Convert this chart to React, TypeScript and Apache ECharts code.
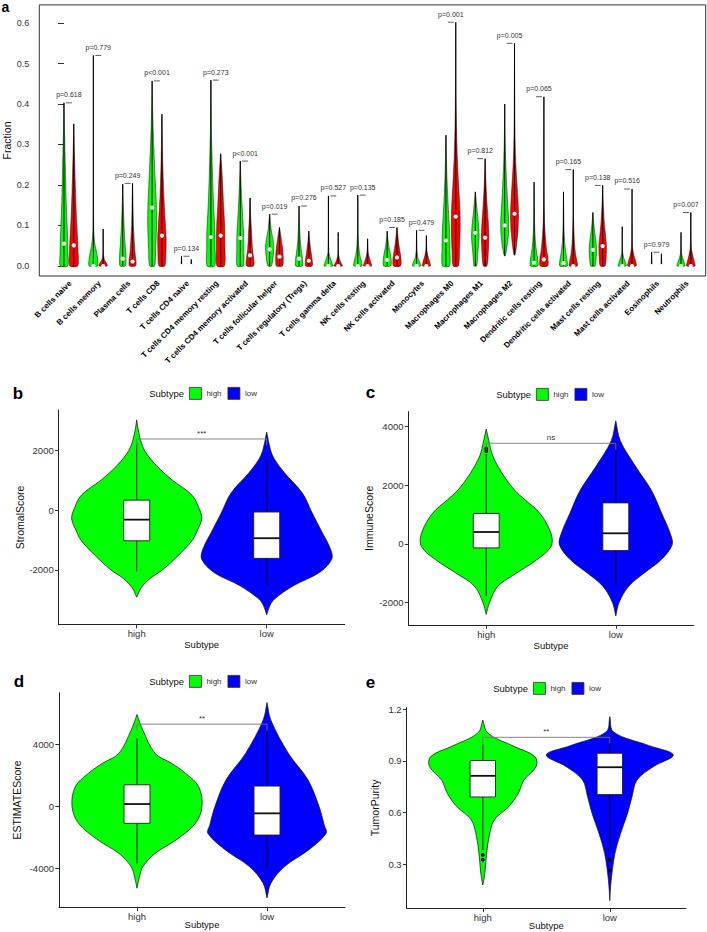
import React, { useEffect, useRef } from "react";
import * as echarts from "echarts";

// ---------------- Panel a data (CIBERSORT fractions) ----------------
const cellTypes = [
  "B cells naive", "B cells memory", "Plasma cells", "T cells CD8", "T cells CD4 naive",
  "T cells CD4 memory resting", "T cells CD4 memory activated", "T cells follicular helper",
  "T cells regulatory (Tregs)", "T cells gamma delta", "NK cells resting", "NK cells activated",
  "Monocytes", "Macrophages M0", "Macrophages M1", "Macrophages M2", "Dendritic cells resting",
  "Dendritic cells activated", "Mast cells resting", "Mast cells activated", "Eosinophils", "Neutrophils",
];
const pLabels = [
  "p=0.618", "p=0.779", "p=0.249", "p<0.001", "p=0.134", "p=0.273", "p<0.001", "p=0.019",
  "p=0.276", "p=0.527", "p=0.135", "p=0.185", "p=0.479", "p=0.001", "p=0.812", "p=0.005",
  "p=0.065", "p=0.165", "p=0.138", "p=0.516", "p=0.979", "p=0.007",
];
const highMedian = [0.055, 0, 0.018, 0.144, 0, 0.071, 0.069, 0.041, 0.018, 0, 0, 0.015, 0, 0.063, 0.082, 0.1, 0.008, 0.007, 0.04, 0, 0, 0];
const lowMedian = [0.051, 0, 0.011, 0.075, 0, 0.075, 0.026, 0.023, 0.013, 0, 0, 0.021, 0, 0.122, 0.07, 0.129, 0.016, 0, 0.049, 0, 0, 0];
// violin outlines: [value, relative half width]
const highProfile = [
  [[0, 0.85], [0.03, 0.9], [0.06, 0.85], [0.1, 0.7], [0.16, 0.5], [0.25, 0.3], [0.32, 0.15], [0.403, 0]],
  [[0, 0.95], [0.015, 1.0], [0.035, 0.7], [0.05, 0.4], [0.08, 0.12], [0.15, 0.04], [0.52, 0]],
  [[0, 0.6], [0.015, 0.75], [0.03, 0.7], [0.06, 0.5], [0.1, 0.3], [0.15, 0.12], [0.202, 0]],
  [[0, 0.55], [0.04, 0.8], [0.1, 1.0], [0.15, 0.95], [0.2, 0.75], [0.25, 0.55], [0.3, 0.35], [0.37, 0.15], [0.457, 0]],
  [[0, 0.3], [0.005, 0.1], [0.024, 0]],
  [[0, 0.85], [0.04, 0.95], [0.09, 0.9], [0.13, 0.7], [0.18, 0.5], [0.25, 0.3], [0.33, 0.12], [0.459, 0]],
  [[0, 0.7], [0.04, 0.8], [0.08, 0.75], [0.12, 0.55], [0.17, 0.3], [0.21, 0.15], [0.259, 0]],
  [[0, 0.4], [0.02, 0.75], [0.045, 0.95], [0.065, 0.75], [0.09, 0.35], [0.128, 0]],
  [[0, 0.75], [0.015, 0.8], [0.035, 0.55], [0.06, 0.3], [0.1, 0.12], [0.148, 0]],
  [[0, 1.0], [0.008, 0.8], [0.02, 0.4], [0.035, 0.08], [0.173, 0]],
  [[0, 0.9], [0.01, 0.85], [0.025, 0.5], [0.05, 0.2], [0.08, 0.08], [0.175, 0]],
  [[0, 0.8], [0.015, 0.9], [0.03, 0.7], [0.05, 0.35], [0.07, 0.12], [0.086, 0]],
  [[0, 0.9], [0.01, 0.7], [0.02, 0.3], [0.04, 0.08], [0.088, 0]],
  [[0, 0.8], [0.04, 0.9], [0.08, 0.85], [0.12, 0.65], [0.16, 0.45], [0.22, 0.22], [0.27, 0.1], [0.323, 0]],
  [[0, 0.3], [0.03, 0.55], [0.07, 0.85], [0.1, 0.75], [0.13, 0.45], [0.16, 0.2], [0.183, 0]],
  [[0.025, 0.1], [0.05, 0.55], [0.08, 0.85], [0.11, 0.9], [0.15, 0.7], [0.2, 0.45], [0.26, 0.22], [0.32, 0.08], [0.4, 0]],
  [[0, 0.85], [0.015, 0.85], [0.035, 0.55], [0.06, 0.3], [0.1, 0.12], [0.15, 0.04], [0.207, 0]],
  [[0, 0.85], [0.015, 0.8], [0.035, 0.5], [0.06, 0.25], [0.1, 0.1], [0.183, 0]],
  [[0, 0.5], [0.02, 0.75], [0.04, 0.85], [0.06, 0.7], [0.085, 0.4], [0.11, 0.15], [0.132, 0]],
  [[0, 0.9], [0.008, 0.75], [0.02, 0.35], [0.035, 0.08], [0.097, 0]],
  [[0, 0.3], [0.005, 0.1], [0.034, 0]],
  [[0, 0.9], [0.008, 0.75], [0.02, 0.35], [0.035, 0.08], [0.083, 0]],
];
const lowProfile = [
  [[0, 0.9], [0.04, 0.95], [0.08, 0.8], [0.12, 0.6], [0.2, 0.35], [0.28, 0.15], [0.351, 0]],
  [[0, 0.9], [0.006, 0.8], [0.015, 0.3], [0.03, 0.05], [0.091, 0]],
  [[0, 0.7], [0.01, 0.8], [0.03, 0.6], [0.06, 0.4], [0.1, 0.2], [0.15, 0.1], [0.204, 0]],
  [[0, 0.65], [0.03, 0.9], [0.07, 0.95], [0.12, 0.7], [0.17, 0.45], [0.25, 0.2], [0.32, 0.07], [0.375, 0]],
  [[0, 0.3], [0.005, 0.1], [0.016, 0]],
  [[0, 0.85], [0.05, 0.95], [0.1, 0.9], [0.15, 0.65], [0.2, 0.45], [0.24, 0.25], [0.277, 0]],
  [[0, 0.8], [0.015, 0.85], [0.04, 0.55], [0.08, 0.35], [0.12, 0.15], [0.168, 0]],
  [[0, 0.7], [0.02, 0.85], [0.04, 0.75], [0.06, 0.5], [0.08, 0.25], [0.095, 0]],
  [[0, 0.75], [0.015, 0.75], [0.035, 0.5], [0.06, 0.2], [0.086, 0]],
  [[0, 0.95], [0.006, 0.7], [0.015, 0.35], [0.03, 0.05], [0.083, 0]],
  [[0, 0.9], [0.008, 0.75], [0.02, 0.4], [0.035, 0.12], [0.067, 0]],
  [[0, 0.8], [0.02, 0.9], [0.04, 0.6], [0.06, 0.35], [0.08, 0.15], [0.095, 0]],
  [[0, 0.9], [0.01, 0.75], [0.025, 0.35], [0.04, 0.1], [0.075, 0]],
  [[0, 0.6], [0.04, 0.85], [0.09, 1.0], [0.14, 0.95], [0.2, 0.65], [0.27, 0.35], [0.35, 0.15], [0.45, 0.05], [0.602, 0]],
  [[0, 0.4], [0.03, 0.7], [0.07, 0.85], [0.11, 0.7], [0.15, 0.45], [0.2, 0.2], [0.265, 0]],
  [[0.027, 0.1], [0.05, 0.45], [0.09, 0.8], [0.13, 0.9], [0.17, 0.75], [0.22, 0.45], [0.28, 0.2], [0.36, 0.07], [0.55, 0]],
  [[0, 0.85], [0.02, 0.9], [0.04, 0.6], [0.07, 0.35], [0.1, 0.18], [0.15, 0.06], [0.25, 0.02], [0.418, 0]],
  [[0, 0.9], [0.01, 0.85], [0.03, 0.5], [0.06, 0.25], [0.1, 0.1], [0.15, 0.03], [0.238, 0]],
  [[0, 0.55], [0.025, 0.8], [0.05, 0.85], [0.08, 0.6], [0.11, 0.35], [0.15, 0.15], [0.199, 0]],
  [[0, 0.95], [0.01, 0.85], [0.025, 0.45], [0.045, 0.12], [0.08, 0.03], [0.19, 0]],
  [[0, 0.3], [0.005, 0.1], [0.03, 0]],
  [[0, 0.95], [0.01, 0.8], [0.025, 0.45], [0.045, 0.12], [0.132, 0]],
];
const fractionTicks = [0, 0.1, 0.2, 0.3, 0.4, 0.5, 0.6];

// ---------------- Panels b-e data ----------------
const subtypes = ["high", "low"];
// box: [lower whisker, Q1, median, Q3, upper whisker]
const stromalHighProfile = [[-2920, 0], [-2600, 0.07], [-2300, 0.2], [-2000, 0.4], [-1500, 0.65], [-1000, 0.86], [-700, 0.93], [-300, 1.0], [0, 0.97], [500, 0.85], [1000, 0.55], [1500, 0.3], [2000, 0.12], [2500, 0.04], [3020, 0]];
const stromalLowProfile = [[-3510, 0], [-3200, 0.05], [-2980, 0.12], [-2538, 0.41], [-2093, 0.81], [-1650, 1.0], [-1300, 0.98], [-650, 0.83], [-100, 0.7], [565, 0.55], [1229, 0.28], [1700, 0.12], [2000, 0.06], [2611, 0]];
const stromalHighBox = [-2060, -1030, -322, 332, 2200];
const stromalLowBox = [-2538, -1618, -943, -66, 1671];
const stromalTicks = [-2000, 0, 2000];
const stromalSig = [2379, "***"];

const immuneHighProfile = [[-2400, 0], [-2000, 0.05], [-1441, 0.18], [-991, 0.47], [-540, 0.78], [-90, 1.0], [361, 1.0], [1037, 0.83], [1500, 0.6], [1824, 0.44], [2389, 0.25], [3000, 0.1], [3514, 0.04], [3909, 0]];
const immuneLowProfile = [[-2456, 0], [-2000, 0.05], [-1441, 0.2], [-991, 0.44], [-540, 0.7], [-34, 0.87], [361, 0.84], [1037, 0.71], [1824, 0.55], [2625, 0.31], [3514, 0.07], [4189, 0]];
const immuneHighBox = [-1780, -135, 405, 1037, 3050];
const immuneLowBox = [-1441, -226, 361, 1396, 3500];
const immuneHighOutliers = [3150, 3250];
const immuneTicks = [-2000, 0, 2000, 4000];
const immuneSig = [3425, "ns"];

const estimateHighProfile = [[-5273, 0], [-4500, 0.04], [-3880, 0.09], [-3025, 0.28], [-2167, 0.6], [-1093, 0.9], [0, 1.0], [1260, 0.95], [2122, 0.75], [2778, 0.53], [3408, 0.28], [4904, 0.09], [5916, 0]];
const estimateLowProfile = [[-5897, 0], [-4950, 0.06], [-3880, 0.27], [-2810, 0.64], [-1737, 0.91], [-1200, 0.88], [0, 0.8], [1705, 0.63], [3408, 0.33], [5550, 0.06], [6688, 0]];
const estimateHighBox = [-3666, -1093, 148, 1389, 4373];
const estimateLowBox = [-3987, -1846, -450, 1305, 4950];
const estimateTicks = [-4000, 0, 4000];
const estimateSig = [5293, "**"];

const purityHighProfile = [[0.178, 0], [0.24, 0.03], [0.36, 0.06], [0.459, 0.1], [0.556, 0.18], [0.634, 0.41], [0.712, 0.56], [0.789, 0.65], [0.867, 0.84], [0.925, 0.82], [0.983, 0.5], [1.061, 0.08], [1.138, 0]];
const purityLowProfile = [[0.087, 0], [0.2, 0.02], [0.36, 0.08], [0.478, 0.17], [0.595, 0.28], [0.692, 0.35], [0.789, 0.43], [0.867, 0.69], [0.935, 1.0], [0.99, 0.61], [1.068, 0.06], [1.157, 0]];
const purityHighBox = [0.381, 0.69, 0.813, 0.902, 0.997];
const purityLowBox = [0.381, 0.704, 0.863, 0.944, 1.04];
const purityHighOutliers = [0.353, 0.325];
const purityLowOutliers = [0.325, 0.262];
const purityTicks = [0.3, 0.6, 0.9, 1.2];
const puritySig = [1.037, "**"];

// ---------------- styling / layout ----------------
const FONT = "Liberation Sans, Arial, Helvetica, sans-serif";
const GREEN = "#00ff00";
const RED = "#ff0000";
const BLUE = "#0000ff";

function violinPoints(api: any, center: number, profile: number[][], hw: number) {
  const right = profile.map(([v, w]) => api.coord([center + w * hw, v]));
  const left = profile.slice().reverse().map(([v, w]) => api.coord([center - w * hw, v]));
  return right.concat(left);
}

function panelASeries() {
  const HW = 0.45;
  return {
    type: "custom",
    name: "Fraction",
    xAxisIndex: 0,
    yAxisIndex: 0,
    clip: false,
    silent: true,
    data: cellTypes.map((_, i) => [3 * i, 0]),
    renderItem: (params: any, api: any) => {
      const i = params.dataIndex;
      const g = 3 * i;
      const r = 3 * i + 1;
      const hp = highProfile[i];
      const lp = lowProfile[i];
      const hMin = hp[0][0], hMax = hp[hp.length - 1][0];
      const lMin = lp[0][0], lMax = lp[lp.length - 1][0];
      const mx = Math.max(hMax, lMax);
      const children: any[] = [];
      const addViolin = (pos: number, prof: number[][], col: string, vmin: number, vmax: number, med: number) => {
        children.push({
          type: "polygon",
          shape: { points: violinPoints(api, pos, prof, HW), smooth: 0.25 },
          style: { fill: col, stroke: "#111", lineWidth: 0.5 },
        });
        const a = api.coord([pos, vmin]);
        const b = api.coord([pos, vmax]);
        children.push({
          type: "line",
          shape: { x1: a[0], y1: a[1], x2: b[0], y2: b[1] },
          style: { stroke: "#000", lineWidth: 1 },
        });
        const m = api.coord([pos, med]);
        children.push({ type: "circle", shape: { cx: m[0], cy: m[1], r: 2.1 }, style: { fill: "#fff" } });
      };
      addViolin(g, hp, GREEN, hMin, hMax, highMedian[i]);
      addViolin(r, lp, RED, lMin, lMax, lowMedian[i]);
      const b1 = api.coord([g + 0.2, mx]);
      const b2 = api.coord([g + 0.8, mx]);
      children.push({
        type: "line",
        shape: { x1: b1[0], y1: b1[1], x2: b2[0], y2: b2[1] },
        style: { stroke: "#333", lineWidth: 0.8 },
      });
      const t = api.coord([g + 0.5, mx + 0.02]);
      children.push({
        type: "text",
        x: t[0],
        y: t[1],
        style: { text: pLabels[i], fill: "#333", fontSize: 7, fontFamily: FONT, align: "center", verticalAlign: "middle" },
      });
      const l = api.coord([r, -0.04]);
      children.push({
        type: "text",
        x: l[0] - 3.5,
        y: l[1],
        rotation: Math.PI / 4,
        style: {
          text: cellTypes[i], fill: "#000", fontSize: 8, fontWeight: "bold", fontFamily: FONT,
          align: "right", verticalAlign: "middle",
        },
      });
      return { type: "group", children };
    },
  };
}

function violinSeries(axisIdx: number, name: string, color: string, pos: number, profile: number[][], box: number[], outliers: number[]) {
  return {
    type: "custom",
    name,
    xAxisIndex: axisIdx,
    yAxisIndex: axisIdx,
    clip: false,
    silent: true,
    itemStyle: { color, borderColor: "#333", borderWidth: 0.8 },
    data: [[pos, box[2]]],
    renderItem: (params: any, api: any) => {
      const [wl, q1, med, q3, wh] = box;
      const bw = 0.1;
      const c = (x: number, y: number) => api.coord([x, y]);
      const children: any[] = [];
      children.push({
        type: "polygon",
        shape: { points: violinPoints(api, pos, profile, 0.5), smooth: 0.35 },
        style: { fill: color, stroke: "#111", lineWidth: 0.7 },
      });
      const w0 = c(pos, wl), w1 = c(pos, q1), w2 = c(pos, q3), w3 = c(pos, wh);
      children.push({ type: "line", shape: { x1: w0[0], y1: w0[1], x2: w1[0], y2: w1[1] }, style: { stroke: "#000", lineWidth: 0.9 } });
      children.push({ type: "line", shape: { x1: w2[0], y1: w2[1], x2: w3[0], y2: w3[1] }, style: { stroke: "#000", lineWidth: 0.9 } });
      const tl = c(pos - bw, q3), br = c(pos + bw, q1);
      children.push({
        type: "rect",
        shape: { x: tl[0], y: tl[1], width: br[0] - tl[0], height: br[1] - tl[1] },
        style: { fill: "#fff", stroke: "#222", lineWidth: 0.9 },
      });
      const m1 = c(pos - bw, med), m2 = c(pos + bw, med);
      children.push({ type: "line", shape: { x1: m1[0], y1: m1[1], x2: m2[0], y2: m2[1] }, style: { stroke: "#111", lineWidth: 1.8 } });
      outliers.forEach((o) => {
        const p = c(pos, o);
        children.push({ type: "circle", shape: { cx: p[0], cy: p[1], r: 1.9 }, style: { fill: "#000" } });
      });
      return { type: "group", children };
    },
  };
}

function sigSeries(axisIdx: number, sig: any[], tip: number) {
  const y = sig[0] as number;
  const label = sig[1] as string;
  return {
    type: "custom",
    name: "sig" + axisIdx,
    xAxisIndex: axisIdx,
    yAxisIndex: axisIdx,
    clip: false,
    silent: true,
    data: [[1.5, y]],
    renderItem: (params: any, api: any) => {
      const pts = [api.coord([1, y - tip]), api.coord([1, y]), api.coord([2, y]), api.coord([2, y - tip])];
      const t = api.coord([1.5, y]);
      return {
        type: "group",
        children: [
          { type: "polyline", shape: { points: pts }, style: { stroke: "#777", lineWidth: 0.9, fill: null } },
          {
            type: "text", x: t[0], y: t[1] - 1.5,
            style: { text: label, fill: "#333", fontSize: 8, fontFamily: FONT, align: "center", verticalAlign: "bottom" },
          },
        ],
      };
    },
  };
}

const panels = [
  {
    grid: { left: 58.7, top: 410, width: 286, height: 214.7 }, min: -3839, max: 3350, ticks: stromalTicks,
    name: "StromalScore", nameGap: 33, xNameGap: 15, fmt: (v: number) => String(v),
    hp: stromalHighProfile, lp: stromalLowProfile, hb: stromalHighBox, lb: stromalLowBox, ho: [], lo: [], sig: stromalSig,
    legend: { left: 189, top: 387 }, letter: { x: 18, y: 393, t: "b" },
  },
  {
    grid: { left: 408.5, top: 411.7, width: 285, height: 213.3 }, min: -2760, max: 4500, ticks: immuneTicks,
    name: "ImmuneScore", nameGap: 34.5, xNameGap: 15, fmt: (v: number) => String(v),
    hp: immuneHighProfile, lp: immuneLowProfile, hb: immuneHighBox, lb: immuneLowBox, ho: immuneHighOutliers, lo: [], sig: immuneSig,
    legend: { left: 536, top: 388 }, letter: { x: 370.5, y: 392.5, t: "c" },
  },
  {
    grid: { left: 59, top: 692.7, width: 286, height: 214.6 }, min: -6500, max: 7318, ticks: estimateTicks,
    name: "ESTIMATEScore", nameGap: 36.5, xNameGap: 12.5, fmt: (v: number) => String(v),
    hp: estimateHighProfile, lp: estimateLowProfile, hb: estimateHighBox, lb: estimateLowBox, ho: [], lo: [], sig: estimateSig,
    legend: { left: 189, top: 675 }, letter: { x: 19, y: 681, t: "d" },
  },
  {
    grid: { left: 406.6, top: 707.5, width: 279.4, height: 200.8 }, min: 0.0424, max: 1.2105, ticks: purityTicks,
    name: "TumorPurity", nameGap: 26.5, xNameGap: 12, fmt: (v: number) => v.toFixed(1),
    hp: purityHighProfile, lp: purityLowProfile, hb: purityHighBox, lb: purityLowBox, ho: purityHighOutliers, lo: purityLowOutliers, sig: puritySig,
    legend: { left: 533, top: 682 }, letter: { x: 370.5, y: 682.5, t: "e" },
  },
];

function buildOption() {
  const grids: any[] = [{
    left: 39.3, top: 4.9, width: 666.4, height: 271.1, show: true, borderColor: "#333", borderWidth: 1,
    backgroundColor: "transparent", containLabel: false, outerBoundsMode: "none",
  }];
  const xAxes: any[] = [{ type: "value", gridIndex: 0, min: -2.52, max: 65.52, show: false }];
  const yAxes: any[] = [{
    type: "value", gridIndex: 0, min: -0.0248, max: 0.6448,
    axisLine: { show: false },
    axisTick: { show: true, customValues: fractionTicks, length: 6, lineStyle: { color: "#333", width: 1 } },
    axisLabel: { customValues: fractionTicks, formatter: (v: number) => v.toFixed(1), fontSize: 9, color: "#333", margin: 10, fontFamily: FONT },
    splitLine: { show: false },
    name: "Fraction", nameLocation: "middle", nameGap: 27, nameMoveOverlap: false,
    nameTextStyle: { fontSize: 10.5, color: "#111", fontFamily: FONT },
  }];
  const series: any[] = [panelASeries()];
  const legends: any[] = [];
  const graphics: any[] = [
    { type: "text", x: 1.5, y: 0, style: { text: "a", fontSize: 14, fontWeight: "bold", fill: "#000", fontFamily: FONT, verticalAlign: "top" } },
  ];
  panels.forEach((p, k) => {
    const idx = k + 1;
    grids.push({ ...p.grid, show: false, containLabel: false, outerBoundsMode: "none" });
    xAxes.push({
      type: "value", gridIndex: idx, min: 0.4, max: 2.6,
      axisLine: { show: true, onZero: false, lineStyle: { color: "#222", width: 1 } },
      axisTick: { show: true, customValues: [1, 2], length: 3.7, lineStyle: { color: "#333", width: 1 } },
      axisLabel: { customValues: [1, 2], formatter: (v: number) => subtypes[Math.round(v) - 1], fontSize: 9.5, color: "#333", margin: 4, fontFamily: FONT },
      splitLine: { show: false },
      name: "Subtype", nameLocation: "middle", nameGap: p.xNameGap, nameMoveOverlap: false,
      nameTextStyle: { fontSize: 9.5, color: "#111", fontFamily: FONT },
    });
    yAxes.push({
      type: "value", gridIndex: idx, min: p.min, max: p.max,
      axisLine: { show: true, onZero: false, lineStyle: { color: "#222", width: 1 } },
      axisTick: { show: true, customValues: p.ticks, length: 3.7, lineStyle: { color: "#333", width: 1 } },
      axisLabel: { customValues: p.ticks, formatter: p.fmt, fontSize: 9.5, color: "#333", margin: 5, fontFamily: FONT },
      splitLine: { show: false },
      name: p.name, nameLocation: "middle", nameGap: p.nameGap, nameMoveOverlap: false,
      nameTextStyle: { fontSize: 10.5, color: "#111", fontFamily: FONT },
    });
    series.push(violinSeries(idx, "high", GREEN, 1, p.hp, p.hb, p.ho));
    series.push(violinSeries(idx, "low", BLUE, 2, p.lp, p.lb, p.lo));
    series.push(sigSeries(idx, p.sig, (p.max - p.min) * 0.03));
    legends.push({
      left: p.legend.left, top: p.legend.top, padding: 0, orient: "horizontal",
      itemWidth: 12, itemHeight: 12, itemGap: 6, selectedMode: false, icon: "rect",
      textStyle: { fontSize: 8, color: "#333", fontFamily: FONT },
      data: [
        { name: "high", itemStyle: { color: GREEN, borderColor: "#333", borderWidth: 0.8 } },
        { name: "low", itemStyle: { color: BLUE, borderColor: "#333", borderWidth: 0.8 } },
      ],
    });
    graphics.push({
      type: "text", x: p.legend.left - 5, y: p.legend.top + 6,
      style: { text: "Subtype", fontSize: 9.5, fill: "#111", fontFamily: FONT, align: "right", verticalAlign: "middle" },
    });
    graphics.push({
      type: "text", x: p.letter.x, y: p.letter.y,
      style: { text: p.letter.t, fontSize: 17, fontWeight: "bold", fill: "#000", fontFamily: FONT, align: "center", verticalAlign: "middle" },
    });
  });
  return {
    animation: false,
    backgroundColor: "#fff",
    textStyle: { fontFamily: FONT },
    grid: grids,
    xAxis: xAxes,
    yAxis: yAxes,
    legend: legends,
    graphic: graphics,
    series,
  };
}

export default function App() {
  const ref = useRef<HTMLDivElement>(null);
  useEffect(() => {
    if (!ref.current) return;
    const chart = echarts.init(ref.current, null, { renderer: "svg" });
    chart.setOption(buildOption() as any);
    return () => chart.dispose();
  }, []);
  return <div ref={ref} style={{ position: "fixed", left: 0, top: 0, width: 707, height: 932, background: "#fff" }} />;
}
